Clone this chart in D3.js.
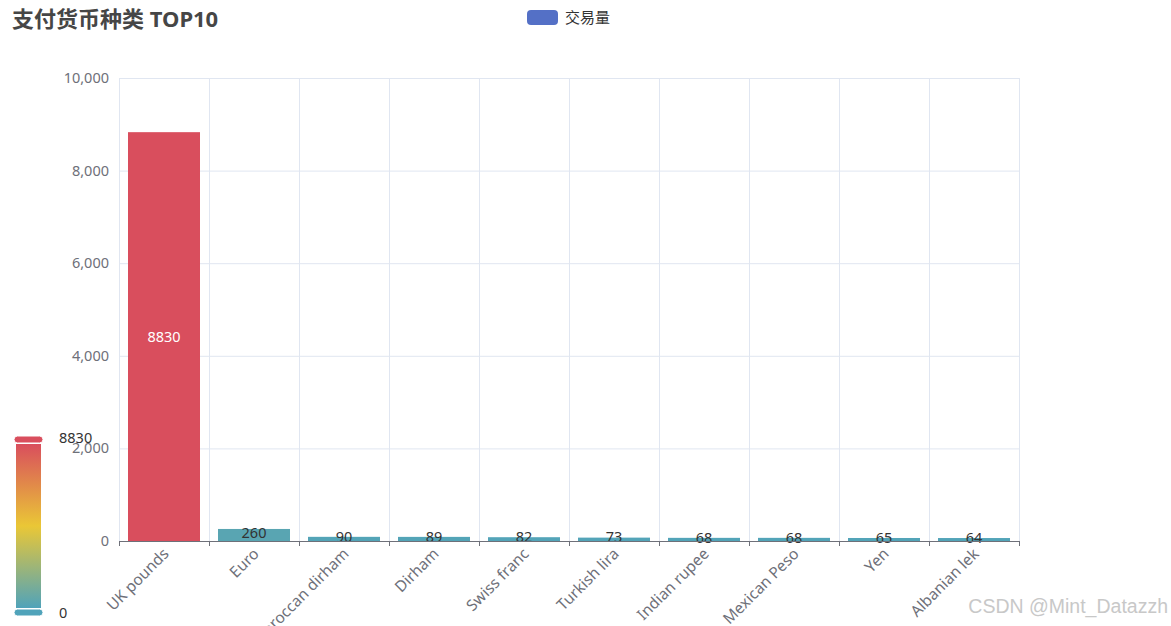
<!DOCTYPE html>
<html>
<head>
<meta charset="utf-8">
<script src="https://cdn.jsdelivr.net/npm/d3@7"></script>
<style>
  body { margin: 0; background: #fff; }
  svg { display: block; font-family: "Noto Sans", "Noto Sans CJK SC", sans-serif; }
</style>
</head>
<body>
<svg width="1171" height="626"></svg>
<script>
const currencies = ["UK pounds", "Euro", "Moroccan dirham", "Dirham", "Swiss franc",
  "Turkish lira", "Indian rupee", "Mexican Peso", "Yen", "Albanian lek"];
const volumes = [8830, 260, 90, 89, 82, 73, 68, 68, 65, 64];
const yTicks = [0, 2000, 4000, 6000, 8000, 10000];
const rangeColors = ["#50a3ba", "#eac736", "#d94e5d"];

const svg = d3.select("svg");
const margin = { top: 78, left: 119, right: 152, bottom: 85 };
const width = +svg.attr("width");
const height = +svg.attr("height");
const x0 = margin.left, x1 = width - margin.right;
const y0 = height - margin.bottom, y1 = margin.top;

const x = d3.scaleBand().domain(currencies).range([x0, x1]).paddingInner(0.2).paddingOuter(0.1);
const y = d3.scaleLinear().domain([0, 10000]).range([y0, y1]);
const maxV = d3.max(volumes);
const color = d3.scaleLinear().domain([0, maxV / 2, maxV]).range(rangeColors);

// title
svg.append("text")
  .attr("x", 12).attr("y", 27)
  .attr("font-size", 22).attr("font-weight", "bold").attr("fill", "#464646")
  .text("支付货币种类 TOP10");

// legend
svg.append("rect")
  .attr("x", 527).attr("y", 10).attr("width", 31).attr("height", 15).attr("rx", 4)
  .attr("fill", "#5470c6");
svg.append("text")
  .attr("x", 565).attr("y", 23).attr("font-size", 15).attr("fill", "#333")
  .text("交易量");

// grid
const step = (x1 - x0) / currencies.length;
const bounds = d3.range(currencies.length + 1).map(i => x0 + i * step);
svg.append("g")
  .selectAll("line.h")
  .data(yTicks.filter(d => d > 0))
  .join("line")
  .attr("x1", x0).attr("x2", x1)
  .attr("y1", d => y(d) + 0.5).attr("y2", d => y(d) + 0.5)
  .attr("stroke", "#e0e6f1");
svg.append("g")
  .selectAll("line")
  .data(bounds)
  .join("line")
  .attr("x1", d => Math.round(d) + 0.5).attr("x2", d => Math.round(d) + 0.5)
  .attr("y1", y1).attr("y2", y0)
  .attr("stroke", "#e0e6f1");

// y labels
svg.append("g")
  .selectAll("text")
  .data(yTicks)
  .join("text")
  .attr("x", x0 - 10).attr("y", d => y(d))
  .attr("dy", "0.35em").attr("text-anchor", "end")
  .attr("font-size", 14.5).attr("fill", "#6e7079")
  .text(d => d3.format(",")(d));

// bars
const data = currencies.map((c, i) => ({ c, v: volumes[i] }));
svg.append("g")
  .selectAll("rect")
  .data(data)
  .join("rect")
  .attr("x", d => x(d.c)).attr("width", x.bandwidth())
  .attr("y", d => y(d.v)).attr("height", d => y0 - y(d.v))
  .attr("fill", d => color(d.v));

svg.append("g")
  .selectAll("text")
  .data(data)
  .join("text")
  .attr("x", d => x(d.c) + x.bandwidth() / 2)
  .attr("y", d => (y(d.v) + y0) / 2 - (y0 - y(d.v) < 20 ? 2 : 0))
  .attr("dy", "0.35em").attr("text-anchor", "middle")
  .attr("font-size", 14.5)
  .attr("fill", d => (y0 - y(d.v) < 20 ? "#333" : "#fff"))
  .text(d => d.v);

// x axis
svg.append("line")
  .attr("x1", x0).attr("x2", x1).attr("y1", y0 + 0.5).attr("y2", y0 + 0.5)
  .attr("stroke", "#6e7079");
svg.append("g")
  .selectAll("line")
  .data(bounds)
  .join("line")
  .attr("x1", d => Math.round(d) + 0.5).attr("x2", d => Math.round(d) + 0.5)
  .attr("y1", y0).attr("y2", y0 + 5)
  .attr("stroke", "#6e7079");
svg.append("g")
  .selectAll("text")
  .data(currencies)
  .join("text")
  .attr("transform", d => `translate(${x(d) + x.bandwidth() / 2 + 2},${y0 + 10}) rotate(-45)`)
  .attr("text-anchor", "end").attr("dy", "0.35em")
  .attr("font-size", 15.5).attr("fill", "#6e7079")
  .text(d => d);

// visual map
const defs = svg.append("defs");
const grad = defs.append("linearGradient").attr("id", "vm")
  .attr("x1", 0).attr("y1", 1).attr("x2", 0).attr("y2", 0);
rangeColors.forEach((c, i) => grad.append("stop").attr("offset", i / 2).attr("stop-color", c));
const vmTop = 444, vmBottom = 608;
const vm = d3.scaleLinear().domain([0, maxV]).range([vmBottom, vmTop]);
svg.append("rect")
  .attr("x", 16).attr("y", vm(maxV)).attr("width", 25).attr("height", vm(0) - vm(maxV))
  .attr("fill", "url(#vm)");
[maxV, 0].forEach(v => {
  svg.append("rect")
    .attr("x", 14).attr("y", v ? vm(v) - 8 : vm(v) + 1).attr("width", 29).attr("height", 7).attr("rx", 3.5)
    .attr("fill", color(v)).attr("stroke", "#fff");
  svg.append("text")
    .attr("x", 59).attr("y", v ? vm(v) - 6 : vm(v) + 5).attr("dy", "0.35em")
    .attr("font-size", 14.5).attr("fill", "#333")
    .text(v);
});

// watermark
svg.append("text")
  .attr("x", 1168).attr("y", 613).attr("text-anchor", "end")
  .attr("font-family", "'Liberation Sans', Arial, sans-serif")
  .attr("font-size", 19.5).attr("fill", "#c8c8c8")
  .text("CSDN @Mint_Datazzh");
</script>
</body>
</html>
